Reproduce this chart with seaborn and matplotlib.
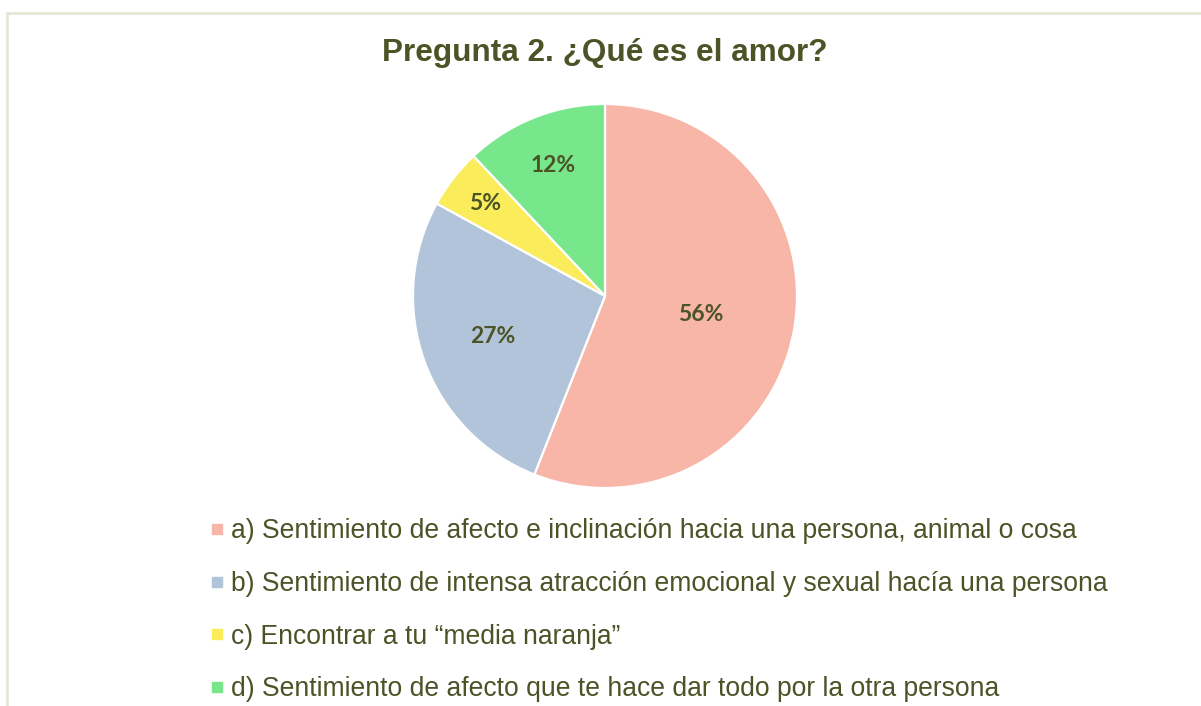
import numpy as np
import matplotlib
matplotlib.use("Agg")
import matplotlib.pyplot as plt
from matplotlib.lines import Line2D
import seaborn as sns

categories = [
    "a) Sentimiento de afecto e inclinación hacia una persona, animal o cosa",
    "b) Sentimiento de intensa atracción emocional y sexual hacía una persona",
    "c) Encontrar a tu \u201cmedia naranja\u201d",
    "d) Sentimiento de afecto que te hace dar todo por la otra persona",
]
values = [56, 27, 5, 12]
pct_labels = ["56%", "27%", "5%", "12%"]
title = "Pregunta 2. ¿Qué es el amor?"

colors = ["#F8B6A8", "#B2C4DA", "#FBEC5B", "#78E68B"]
label_radius = [0.51, 0.62, 0.79, 0.73]
text_color = "#4B5427"

sns.set_theme(style="white")
plt.rcParams["font.family"] = ["Liberation Sans", "DejaVu Sans"]

W, H = 1201, 706
fig = plt.figure(figsize=(W / 100, H / 100), dpi=100)
fig.patch.set_facecolor("white")

# chart frame (left and top edges visible)
border = "#E4E7D3"
fig.add_artist(Line2D([7 / W, 7 / W], [0, 1 - 13 / H], transform=fig.transFigure, color=border, lw=2))
fig.add_artist(Line2D([7 / W, 1], [1 - 13 / H, 1 - 13 / H], transform=fig.transFigure, color=border, lw=2))

cx, cy, r = 605, 296, 192
ax = fig.add_axes([(cx - r) / W, (H - cy - r) / H, 2 * r / W, 2 * r / H])
wedges, _ = ax.pie(values, colors=colors, startangle=90, counterclock=False,
                   wedgeprops=dict(edgecolor="white", linewidth=1.6))
ax.set_xlim(-1, 1)
ax.set_ylim(-1, 1)
ax.axis("off")

total = float(sum(values))
cum = 0.0
for v, lab, rr in zip(values, pct_labels, label_radius):
    mid = (cum + v / 2) / total * 2 * np.pi
    cum += v
    x = rr * np.sin(mid)
    y = rr * np.cos(mid)
    ax.text(x, y, lab, ha="center", va="center", fontsize=16.5, fontweight="bold",
            color=text_color, family=["Lato", "DejaVu Sans"])

fig.text(cx / W, 1 - 53 / H, title, ha="center", va="center", fontsize=22.7,
         fontweight="bold", color=text_color)

handles = [Line2D([0], [0], marker="s", linestyle="none", markersize=7,
                  markerfacecolor=c, markeredgecolor=c) for c in colors]
leg = fig.legend(handles, categories, loc="upper left",
                 bbox_to_anchor=(211 / W, 1 - 518 / H), frameon=False,
                 fontsize=19.1, handlelength=0.45, handletextpad=0.3,
                 labelspacing=1.01, borderpad=0, borderaxespad=0)
for t in leg.get_texts():
    t.set_color(text_color)

fig.savefig("out.png", dpi=100, facecolor="white")
